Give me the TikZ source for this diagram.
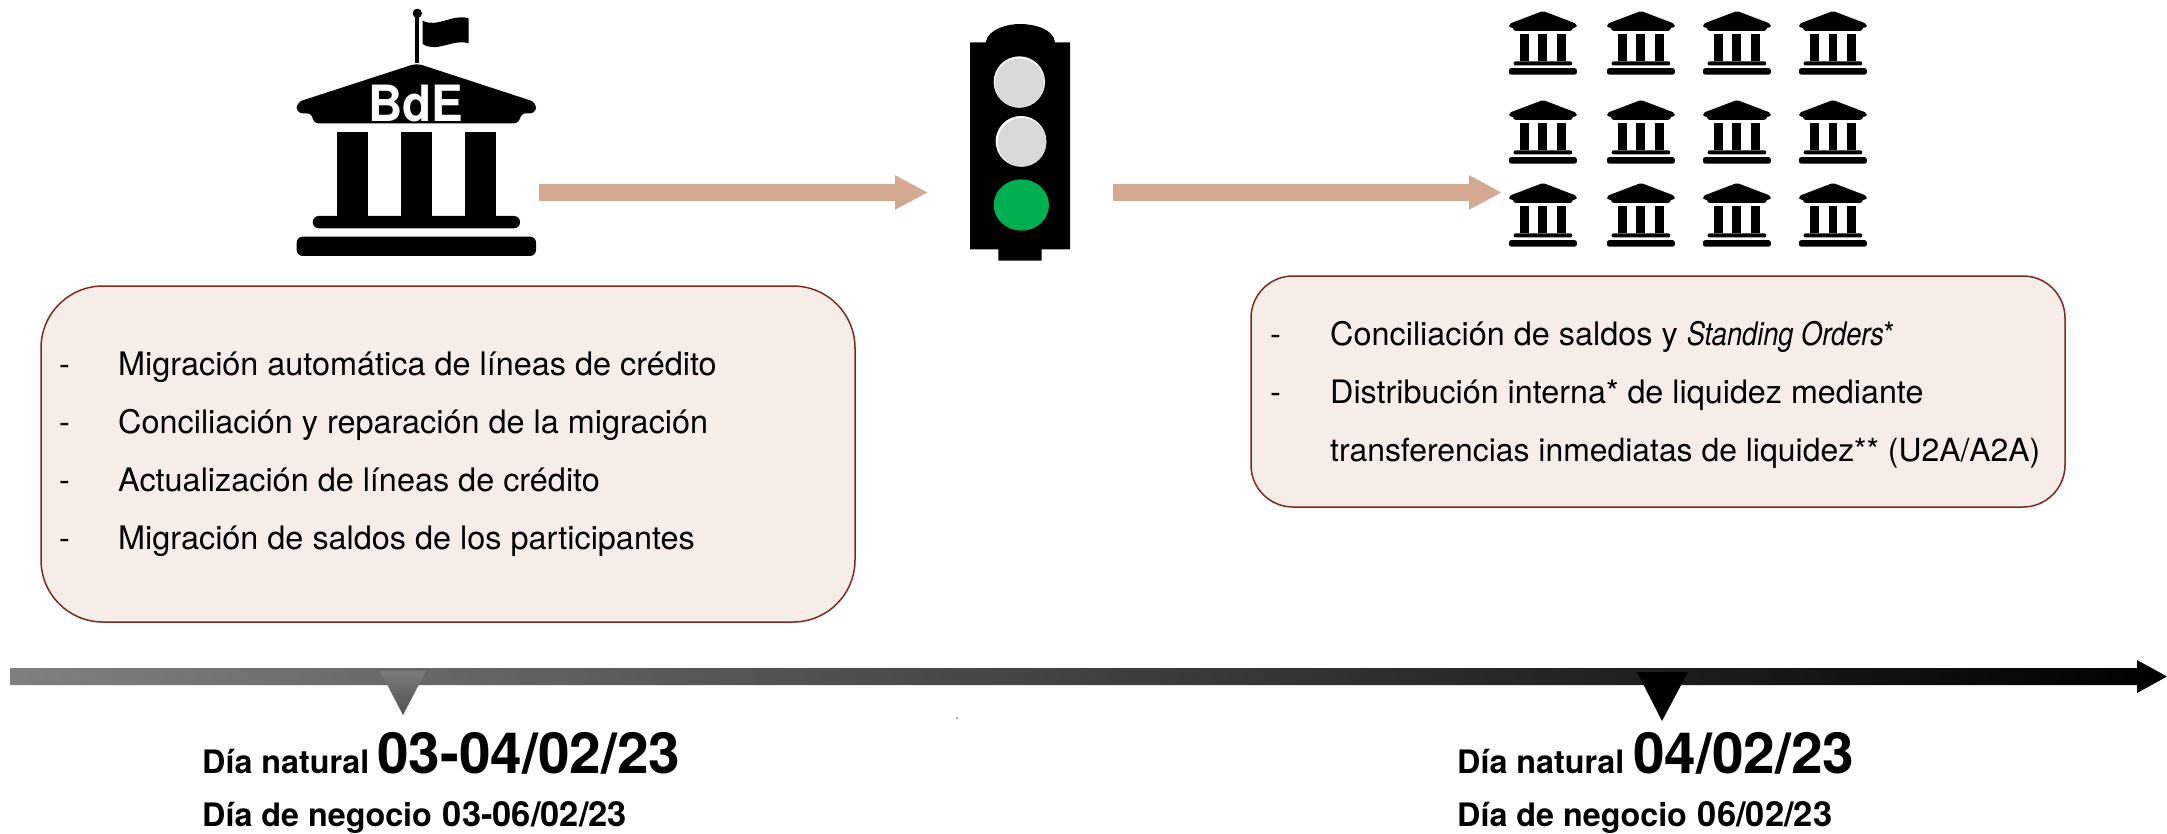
\documentclass[tikz,border=0pt]{standalone}
\usepackage{fontspec}
\setmainfont{TeX Gyre Heros}
\usetikzlibrary{arrows.meta}
\definecolor{salmon}{HTML}{D4A990}
\definecolor{boxfill}{HTML}{F6EDE9}
\definecolor{boxline}{HTML}{7F2A1F}
\definecolor{lampgrey}{HTML}{D9D9D9}
\definecolor{lampgreen}{HTML}{00B050}
\newcommand{\fsz}[1]{\fontsize{#1}{#1}\selectfont}
\tikzset{
  x=1pt,y=-1pt,
  infobox/.style={draw=boxline,fill=boxfill,line width=1.5pt},
  bodytext/.style={anchor=base west,inner sep=0pt,font=\fsz{32.4}},
  smalldate/.style={anchor=base west,inner sep=0pt,font=\fsz{32.3}\bfseries},
  bigdate/.style={anchor=base west,inner sep=0pt,font=\fsz{56.8}\bfseries},
  flow/.style={draw=salmon,line width=17pt,-{Triangle[length=33pt,width=32pt]}},
  pics/bank/.style={code={
    \fill[rounded corners=#1] (0,0) -- (-360,117) -- (-360,150) -- (-312,150) -- (-312,180) -- (310,180) -- (310,150) -- (358,150) -- (358,117) -- cycle;
    \fill (-240,207) rectangle (-146,458);
    \fill (-48,207) rectangle (46,458);
    \fill (145,207) rectangle (239,458);
    \fill[rounded corners=#1] (-312,495) -- (-312,458) -- (310,458) -- (310,495) -- cycle;
    \fill[rounded corners=#1] (-360,578) -- (-360,520) -- (358,520) -- (358,578) -- cycle;
  }}
}
\begin{document}
\begin{tikzpicture}
\useasboundingbox (0,0) rectangle (2167,833);
% central bank
\pic[xscale=0.3333,yscale=0.3333] at (416.7,63.3) {bank=6pt};
\begin{scope}[shift={(270,0)},scale=0.3333]
  \fill (436,40) rectangle (448,190);
  \fill (442,40) circle (14);
  \fill (458,62) .. controls (500,85) and (550,40) .. (596,55) -- (596,130) .. controls (550,115) and (500,160) .. (458,132) -- cycle;
\end{scope}
\node[anchor=base,inner sep=0pt,font=\fsz{50}\bfseries,text=white] (bde) at (415.5,121.5) {\scalebox{0.95}[1]{BdE}};
% traffic light
\begin{scope}[shift={(940,10)},scale=0.3333]
  \fill (137,97) .. controls (145,55) and (205,42) .. (240,42) .. controls (280,42) and (340,55) .. (345,97) -- (390,97) -- (390,718) -- (305,718) -- (305,752) -- (175,752) -- (175,718) -- (90,718) -- (90,97) -- cycle;
  \fill[white] (238,216) circle (77);
  \fill[lampgrey] (238,219) circle (74);
  \fill[white] (243,394) circle (76);
  \fill[lampgrey] (246,397) circle (73);
  \fill[lampgreen] (244,585) ellipse (83 and 77);
\end{scope}
\coordinate (lightin) at (928,192.5);
\coordinate (bankout) at (539,192.5);
\coordinate (lightout) at (1113,192.5);
\coordinate (banksin) at (1502,192.5);
\draw[flow] (bankout) -- (lightin);
\draw[flow] (lightout) -- (banksin);
% participant banks
\foreach \bx in {1543,1641,1737,1833}
  \foreach \by in {11,100,183}
    \pic[xscale=0.0943,yscale=0.110] at (\bx,\by) {bank=2pt};
% boxes
\draw[infobox,rounded corners=62pt] (41,286) rectangle (855,622);
\draw[infobox,rounded corners=42pt] (1251,276) rectangle (2065,507);
\foreach \ly/\txt [count=\i] in {375.5/{Migración automática de líneas de crédito},433.5/{Conciliación y reparación de la migración},491.5/{Actualización de líneas de crédito},549.5/{Migración de saldos de los participantes}}{
  \node[bodytext] (ldash\i) at (59,\ly) {-};
  \node[bodytext] (ltext\i) at (118,\ly) {\txt};
}
\node[bodytext] (rdash1) at (1270,345) {-};
\node[bodytext] (rtext1) at (1330,345) {Conciliación de saldos y \scalebox{0.84}[1]{\textit{Standing Orders}*}};
\node[bodytext] (rdash2) at (1270,403) {-};
\node[bodytext,font=\fsz{32.3}] (rtext2) at (1330,403) {Distribución interna* de liquidez mediante};
\node[bodytext,font=\fsz{31.9}] (rtext3) at (1330,461) {transferencias inmediatas de liquidez** (U2A/A2A)};
% timeline
\shade[left color=black!50,right color=black] (10,668) -- (2137,668) -- (2137,660) -- (2167,676.5) -- (2137,693) -- (2137,685) -- (10,685) -- cycle;
\shade[top color=black!52,bottom color=black!68] (380,671) -- (426,671) -- (403,715) -- cycle;
\fill[black] (1637,672) -- (1688,672) -- (1662,721) -- cycle;
\fill[salmon] (956.3,717) rectangle (957.7,719);
% dates
\node[smalldate] (nat1) at (202,773) {Día natural};
\node[bigdate] (big1) at (377,773) {03-04/02/23};
\node[smalldate] (neg1) at (202,826) {Día de negocio\hspace{2pt} {\fsz{34.5}03-06/02/23}};
\node[smalldate] (nat2) at (1457,773) {Día natural};
\node[bigdate] (big2) at (1633,773) {04/02/23};
\node[smalldate] (neg2) at (1457,826) {Día de negocio\hspace{2pt} {\fsz{34.5}06/02/23}};
\end{tikzpicture}
\end{document}
